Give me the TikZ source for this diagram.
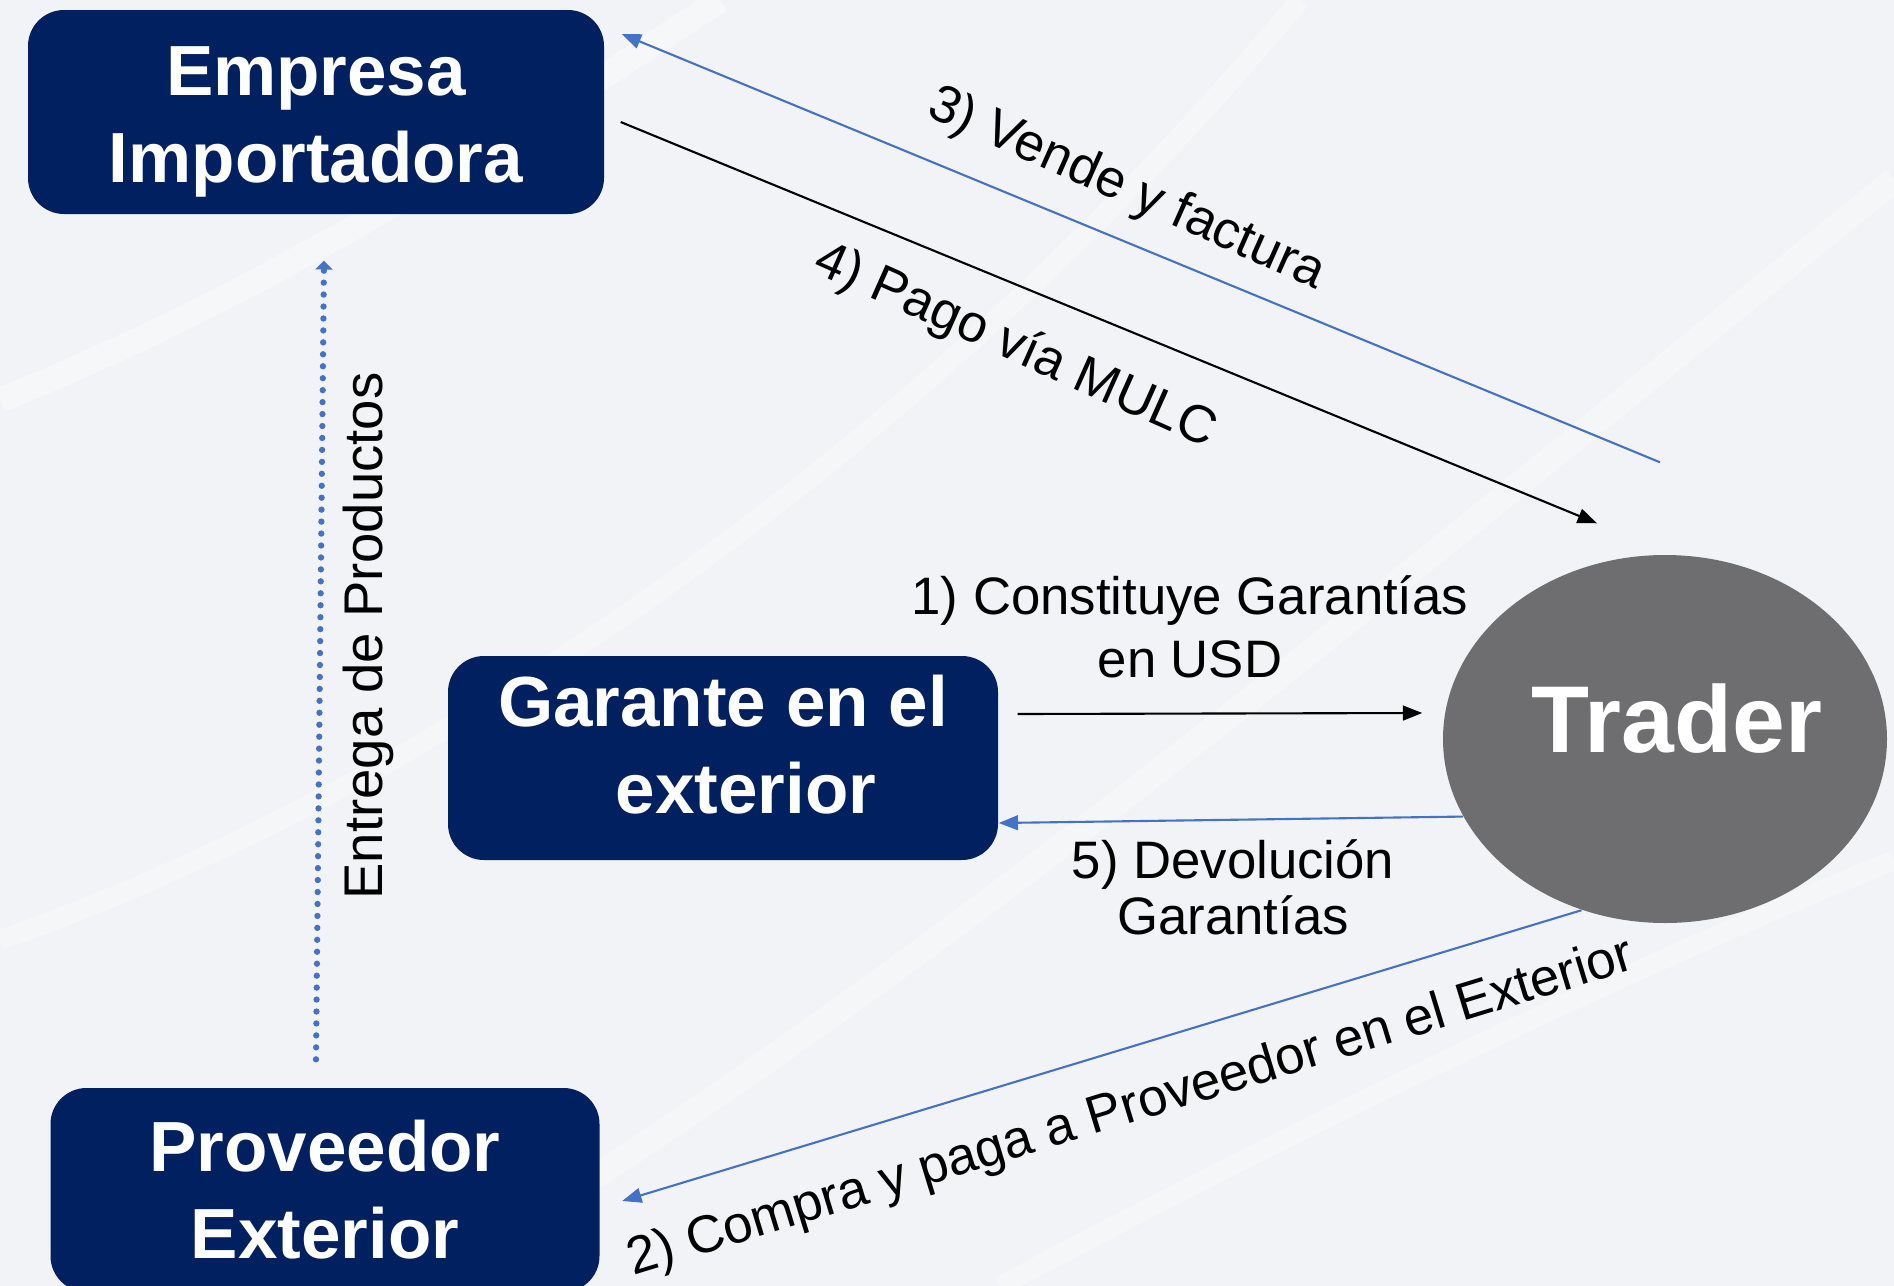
\documentclass[tikz,border=0pt]{standalone}
\usepackage{fontspec}
\setmainfont{Liberation Sans}
\usepackage{tikz}
\usetikzlibrary{arrows.meta,positioning,calc,shapes.geometric}
\definecolor{NavyBox}{HTML}{002060}
\definecolor{TraderGray}{HTML}{6E6E70}
\definecolor{FlowBlue}{HTML}{4472C4}
\definecolor{Backdrop}{HTML}{F2F3F6}

\begin{document}
\begin{tikzpicture}[x=0.1mm,y=-0.1mm,
  box/.style={fill=NavyBox,rounded corners=3.6mm,minimum width=55mm,minimum height=20.4mm,inner sep=0pt},
  boxtext/.style={inner sep=0pt,text=white,align=center,font=\fontsize{20.2}{24.7}\selectfont\bfseries},
  lbl/.style={inner sep=0pt,align=center,font=\fontsize{15}{18}\selectfont},
  bluearrow/.style={FlowBlue,line width=0.6pt,-{Triangle[length=5.5pt,width=4.2pt]}},
  blackarrow/.style={black,line width=0.6pt,-{Triangle[length=5.5pt,width=4.2pt]}}]
  \useasboundingbox (0,0) rectangle (1894,1286);
  \clip (0,0) rectangle (1894,1286);
  \fill[Backdrop] (0,0) rectangle (1894,1286);
  % faint swooshes in the backdrop
  \draw[white,opacity=0.35,line width=2.5mm] (0,400) .. controls (200,320) and (420,200) .. (720,0);
  \draw[white,opacity=0.3,line width=2mm] (0,940) .. controls (400,800) and (900,480) .. (1300,0);
  \draw[white,opacity=0.3,line width=2.5mm] (420,1286) .. controls (900,1000) and (1350,620) .. (1894,180);
  \draw[white,opacity=0.25,line width=2mm] (1000,1286) .. controls (1350,1100) and (1650,960) .. (1894,860);

  \node[box,minimum width=57.6mm] (imp) at (316,112) {};
  \node[boxtext] (impname) at ($(imp.center)+(0,10)$) {Empresa\\Importadora};
  \node[box] (gar) at (723,758) {};
  \node[boxtext] (garname) at ($(gar.center)+(0,-13)$) {Garante en el\\\hspace*{13pt}exterior};
  \node[box,minimum width=54.9mm] (prov) at (325,1190) {};
  \node[boxtext] (provname) at (prov.center) {Proveedor\\Exterior};
  \node[ellipse,fill=TraderGray,minimum width=44.4mm,minimum height=36.8mm,inner sep=0pt] (trd) at (1665,739) {};
  \node[text=white,inner sep=0pt,font=\fontsize{27}{32}\selectfont\bfseries] (trdname) at ($(trd.center)+(12,-20)$) {Trader};

  \draw[bluearrow] ($(trd.north)+(-5,-92)$) -- ($(imp.east)+(17,-78)$);
  \draw[blackarrow] ($(imp.east)+(16,10)$) -- ($(trd.north)+(-68,-31)$);
  \draw[blackarrow] ($(gar.east)+(19,-44)$) -- ($(trd.west)+(-20,-26)$);
  \draw[bluearrow] (trd.201) -- ($(gar.east)+(0,65)$);
  \draw[bluearrow] (trd.244) -- ($(prov.east)+(22,11)$);
  \draw[FlowBlue,line width=1.8pt,dash pattern=on 0pt off 3.4pt,line cap=round,
    -{Triangle[length=2.5pt,width=4.8pt]}] ($(prov.north)+(-9,-28)$) -- ($(imp.south)+(8,46)$);

  \node[lbl,rotate=-24] (lvende) at (1126,190) {3)~Vende y factura};
  \node[lbl,rotate=-24] (lpago) at (1015,347) {4)~Pago vía MULC};
  \node[lbl] (lconst) at (1190,627) {1)~Constituye Garantías\\en USD};
  \node[lbl,font=\fontsize{15}{16}\selectfont] (ldevol) at (1233,887) {5)~Devolución\\Garantías};
  \node[lbl,rotate=17] (lcompra) at (1131,1109) {2)~Compra y paga a Proveedor en el Exterior};
  \node[lbl,rotate=90,font=\fontsize{15.5}{18}\selectfont] (lentrega) at (368,636) {Entrega de Productos};
\end{tikzpicture}
\end{document}
